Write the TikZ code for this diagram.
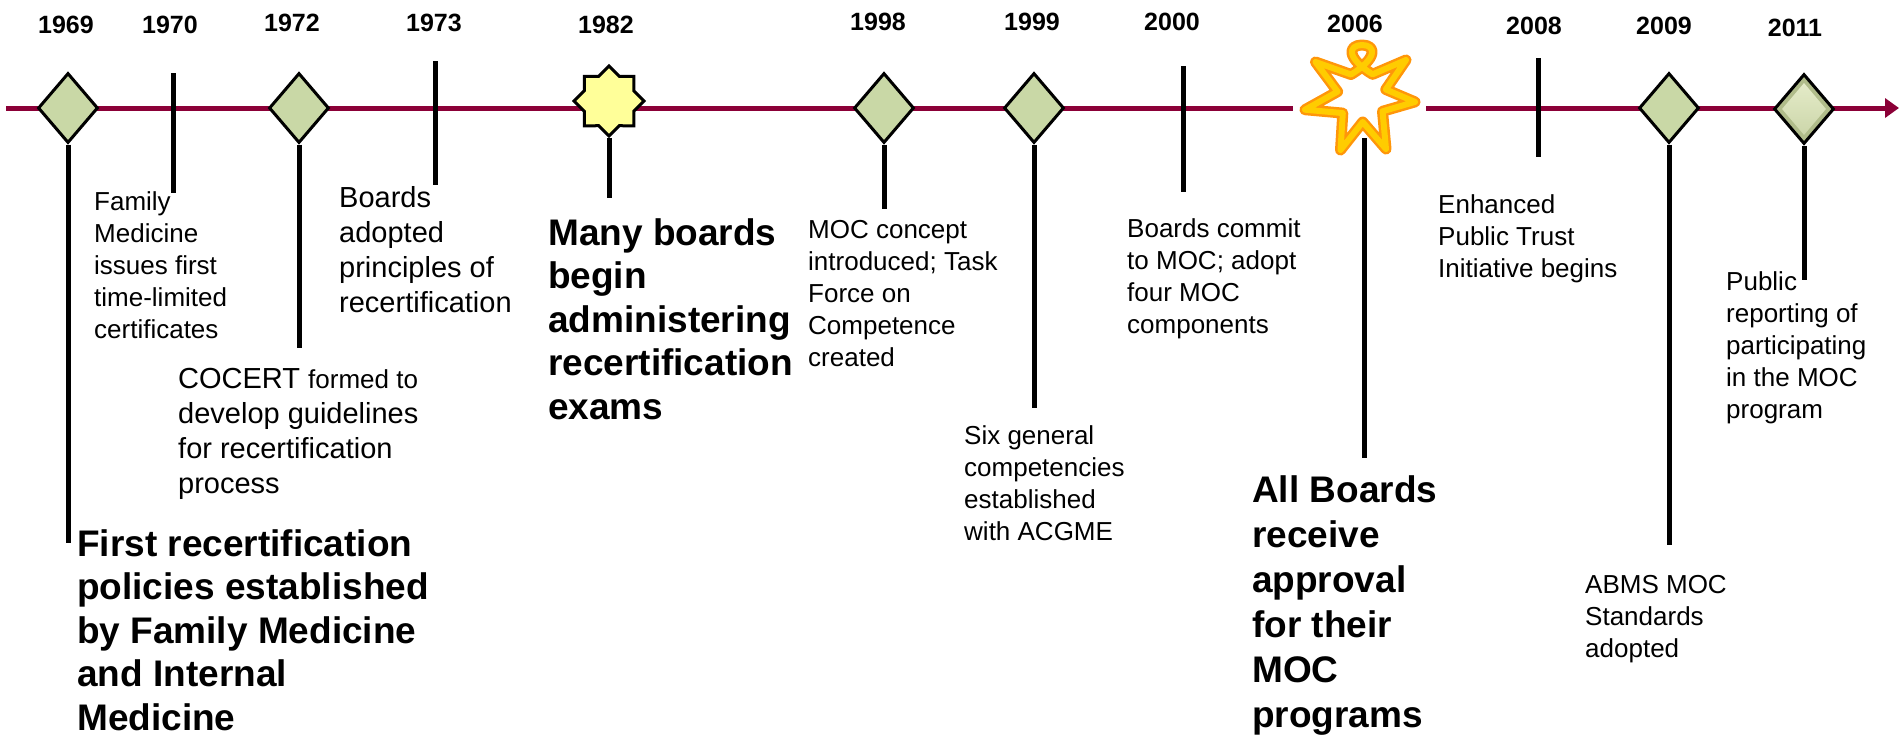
\documentclass[tikz,border=0pt]{standalone}
\usepackage{fontspec}
\setmainfont{Liberation Sans}
\usetikzlibrary{shapes.geometric,arrows.meta,calc}
\definecolor{maroon}{RGB}{139,0,55}
\definecolor{dgreen}{RGB}{201,216,166}
\definecolor{bevdark}{RGB}{176,188,138}
\definecolor{bevlight}{RGB}{228,235,200}
\definecolor{bevmid}{RGB}{204,214,170}
\definecolor{lyellow}{RGB}{255,255,153}
\definecolor{rorange}{RGB}{255,150,10}
\definecolor{ryellow}{RGB}{255,204,0}
\begin{document}
\begin{tikzpicture}[x=1pt,y=-1pt,
  yr/.style={font=\bfseries\fontsize{25}{30}\selectfont, anchor=base, inner sep=0pt},
  dia/.style={diamond, draw=black, line width=3pt, fill=dgreen, minimum width=60pt, minimum height=70pt, inner sep=0pt},
  stem/.style={line width=5pt, black},
  tickline/.style={line width=5pt, black},
  tl/.style={line width=5pt, maroon},
  txt/.style={anchor=north west, inner sep=0pt, align=left, font=\fontsize{26}{32}\selectfont},
  txtm/.style={anchor=north west, inner sep=0pt, align=left, font=\fontsize{29}{35}\selectfont},
  txtb/.style={anchor=north west, inner sep=0pt, align=left, font=\bfseries\fontsize{37}{43.5}\selectfont},
  txtbb/.style={anchor=north west, inner sep=0pt, align=left, font=\bfseries\fontsize{37}{45}\selectfont},
  ribbon/.style={line width=11pt, rorange, line join=round},
  ribbonin/.style={line width=6pt, ryellow, line join=round}
]
\useasboundingbox (0,0) rectangle (1899,737);
\fill[white] (0,0) rectangle (1899,737);

% timeline
\coordinate (tlA) at (6,108);
\coordinate (tlB) at (1293,108);
\coordinate (tlC) at (1426,108);
\coordinate (tlD) at (1899,108);
\draw[tl] (tlA) -- (tlB);
\draw[tl, -{Triangle[length=14pt,width=19pt]}] (tlC) -- (tlD);

% years
\node[yr] (y69) at (66,33) {1969};
\node[yr] (y70) at (170,33) {1970};
\node[yr] (y72) at (292,31) {1972};
\node[yr] (y73) at (434,31) {1973};
\node[yr] (y82) at (606,33) {1982};
\node[yr] (y98) at (878,30) {1998};
\node[yr] (y99) at (1032,30) {1999};
\node[yr] (y00) at (1172,30) {2000};
\node[yr] (y06) at (1355,32) {2006};
\node[yr] (y08) at (1534,34) {2008};
\node[yr] (y09) at (1664,34) {2009};
\node[yr] (y11) at (1795,36) {2011};

% ticks
\coordinate (k70a) at (173,73);  \coordinate (k70b) at (173,193);
\coordinate (k73a) at (435,61);  \coordinate (k73b) at (435,185);
\coordinate (k00a) at (1183,66); \coordinate (k00b) at (1183,192);
\coordinate (k08a) at (1538,58); \coordinate (k08b) at (1538,157);
\draw[tickline] (k70a) -- (k70b);
\draw[tickline] (k73a) -- (k73b);
\draw[tickline] (k00a) -- (k00b);
\draw[tickline] (k08a) -- (k08b);

% diamonds
\node[dia] (d69) at (68,108) {};
\node[dia] (d72) at (299,108) {};
\node[dia] (d98) at (884,108) {};
\node[dia] (d99) at (1034,108) {};
\node[dia] (d09) at (1669,108) {};
\node[dia, fill=bevdark] (d11) at (1804,109) {};
\node[diamond, inner sep=0pt, minimum width=44pt, minimum height=52pt, top color=bevlight, bottom color=bevmid] (d11in) at (1804,109) {};

% star 1982
\node[star, star points=8, star point ratio=1.307, minimum size=70pt, inner sep=0pt, draw=black, line width=3pt, fill=lyellow] (s82) at (609,101) {};

% starburst 2006 (ribbon star with loop)
\def\sbpath{(1351,74.5) .. controls (1378,58) and (1376,45) .. (1362,45) .. controls (1348,45) and (1346,58) .. (1372.6,74.3) -- (1406,60) -- (1385.8,89.5) -- (1415,101.9) -- (1382.5,111.3) -- (1386,149) -- (1362.7,122) -- (1340.5,150) -- (1342.8,113.1) -- (1305,109.7) -- (1337.6,91.6) -- (1315.5,62) -- cycle}
\draw[ribbon] \sbpath;
\draw[ribbonin] \sbpath;
\coordinate (s06) at (1364,138);

% stems
\coordinate (e69) at (68,543);
\coordinate (e72) at (299,348);
\coordinate (e82) at (609,198);
\coordinate (e98) at (884,209);
\coordinate (e99) at (1034,408);
\coordinate (e06) at (1364,458);
\coordinate (e09) at (1669,545);
\coordinate (e11) at (1804,280);
\draw[stem] (d69.south) -- (e69);
\draw[stem] (d72.south) -- (e72);
\draw[stem] (s82.south) -- (e82);
\draw[stem] (d98.south) -- (e98);
\draw[stem] (d99.south) -- (e99);
\draw[stem] (s06) -- (e06);
\draw[stem] (d09.south) -- (e09);
\draw[stem] (d11.south) -- (e11);

% texts
\node[txtb] (t69) at (77,525.5) {\strut First recertification\\policies established\\by Family Medicine\\and Internal\\Medicine};
\node[txt] (t70) at (94,187.6) {\strut Family\\Medicine\\issues first\\time-limited\\certificates};
\node[txtm] (t72) at (178,363.5) {\strut COCERT {\fontsize{26}{35}\selectfont formed to}\\develop guidelines\\for recertification\\process};
\node[txtm] (t73) at (339,182.5) {\strut Boards\\adopted\\principles of\\recertification};
\node[txtb] (t82) at (548,214.5) {\strut Many boards\\begin\\administering\\recertification\\exams};
\node[txt] (t98) at (808,215.6) {\strut MOC concept\\introduced; Task\\Force on\\Competence\\created};
\node[txt] (t99) at (964,421.6) {\strut Six general\\competencies\\established\\with ACGME};
\node[txt] (t00) at (1127,214.6) {\strut Boards commit\\to MOC; adopt\\four MOC\\components};
\node[txtbb] (t06) at (1252,470.5) {\strut All Boards\\receive\\approval\\for their\\MOC\\programs};
\node[txt] (t08) at (1438,190.6) {\strut Enhanced\\Public Trust\\Initiative begins};
\node[txt] (t09) at (1585,570.6) {\strut ABMS MOC\\Standards\\adopted};
\node[txt] (t11) at (1726,267.6) {\strut Public\\reporting of\\participating\\in the MOC\\program};
\end{tikzpicture}
\end{document}
